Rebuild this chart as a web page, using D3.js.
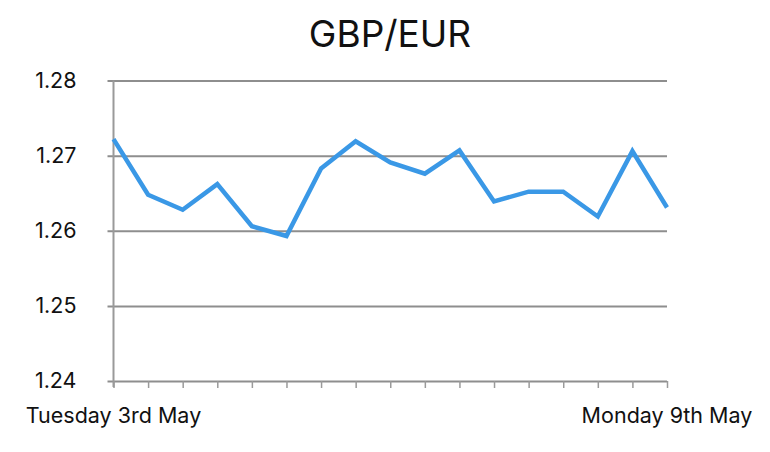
<html>
<head>
<meta charset="utf-8">
<title>GBP/EUR</title>
<script src="https://cdn.jsdelivr.net/npm/d3@7"></script>
<style>
  body { margin: 0; background: #fff; }
  text { font-family: Inter, "Noto Sans", sans-serif; fill: #111; }
</style>
</head>
<body>
<div id="chart"></div>
<script>
// data: one value per tick, 3rd May .. 9th May
var rates = [1.2722, 1.2648, 1.2628, 1.2662, 1.2606, 1.2593, 1.2683, 1.2719, 1.2691,
             1.2676, 1.2707, 1.2639, 1.2652, 1.2652, 1.2619, 1.2706, 1.2631];
var yTicks = [1.24, 1.25, 1.26, 1.27, 1.28];
var xLabels = [[0, "Tuesday 3rd May"], [16, "Monday 9th May"]];
var title = "GBP/EUR";

var width = 770, height = 452;
var margin = { left: 113.5, right: 103, top: 80.5, bottom: 71 };

var svg = d3.select('#chart')
    .append('svg')
    .attr('width', width)
    .attr('height', height);

var x = d3.scaleLinear()
    .domain([0, rates.length - 1])
    .range([margin.left, width - margin.right]);

var y = d3.scaleLinear()
    .domain([1.24, 1.28])
    .range([height - margin.bottom, margin.top]);

// gridlines + y labels
var yAxis = svg.append('g')
    .attr('transform', 'translate(' + margin.left + ',0)')
    .call(d3.axisLeft(y)
        .tickValues(yTicks)
        .tickFormat(d3.format('.2f'))
        .tickSize(-(width - margin.right - margin.left))
        .tickPadding(37));
yAxis.select('.domain').remove();
yAxis.selectAll('.tick line')
    .attr('x1', -6)
    .attr('stroke', '#8e8e8e')
    .attr('stroke-width', 2);
yAxis.selectAll('.tick text')
    .attr('font-size', 21.5)
    .attr('fill', '#111')
    .style('font-family', 'Inter, "Noto Sans", sans-serif');

// left axis line
svg.append('line')
    .attr('x1', margin.left).attr('x2', margin.left)
    .attr('y1', y(1.28)).attr('y2', y(1.24) + 6)
    .attr('stroke', '#9a9a9a')
    .attr('stroke-width', 2);

// x ticks
var xAxis = svg.append('g')
    .attr('transform', 'translate(0,' + y(1.24) + ')')
    .call(d3.axisBottom(x)
        .tickValues(d3.range(rates.length))
        .tickSize(7)
        .tickFormat(''));
xAxis.select('.domain').remove();
xAxis.selectAll('.tick line')
    .attr('stroke', '#9a9a9a')
    .attr('stroke-width', 1.5);

svg.selectAll('.xlabel')
    .data(xLabels)
    .enter().append('text')
    .attr('class', 'xlabel')
    .attr('x', function(d) { return x(d[0]) })
    .attr('y', 423)
    .attr('text-anchor', 'middle')
    .attr('font-size', 21.5)
    .text(function(d) { return d[1] });

// the rate line
var line = d3.line()
    .x(function(d, i) { return x(i) })
    .y(function(d) { return y(d) });

svg.append('path')
    .datum(rates)
    .attr('d', line)
    .attr('fill', 'none')
    .attr('stroke', '#3a98e6')
    .attr('stroke-width', 4.5)
    .attr('stroke-linejoin', 'miter');

svg.append('text')
    .attr('x', 390)
    .attr('y', 47)
    .attr('text-anchor', 'middle')
    .attr('font-size', 37)
    .text(title);
</script>
</body>
</html>
